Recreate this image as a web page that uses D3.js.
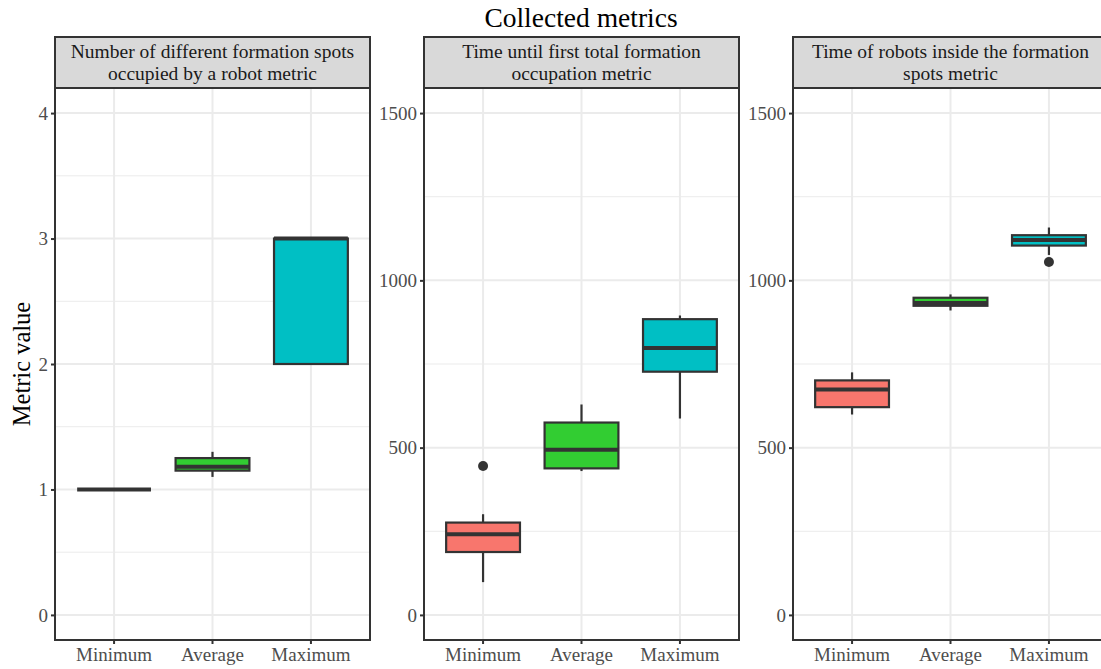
<!DOCTYPE html>
<html>
<head>
<meta charset="utf-8">
<script src="https://cdn.jsdelivr.net/npm/d3@7"></script>
<style>
  body { margin: 0; background: #fff; }
  text { font-family: "Liberation Serif", "DejaVu Serif", serif; }
</style>
</head>
<body>
<svg id="chart" width="1101" height="669"></svg>
<script>
const width = 1101;
const height = 669;

// data
const categories = ["Minimum", "Average", "Maximum"];
const fillColors = ["#F8766D", "#32CD32", "#00BFC4"];
const panelTitles = [
  ["Number of different formation spots", "occupied by a robot metric"],
  ["Time until first total formation", "occupation metric"],
  ["Time of robots inside the formation", "spots metric"]
];
const yTicks = [
  [0, 1, 2, 3, 4],
  [0, 500, 1000, 1500],
  [0, 500, 1000, 1500]
];
// per panel, per category
const whiskerLow = [[1, 1.1, 2], [98, 430, 587], [599, 910, 1076]];
const q1 = [[1, 1.15, 2], [188, 438, 727], [621, 924, 1104]];
const median = [[1, 1.18, 3], [241, 494, 798], [674, 932, 1121]];
const q3 = [[1, 1.25, 3], [276, 575, 884], [701, 948, 1135]];
const whiskerHigh = [[1, 1.3, 3], [301, 629, 895], [725, 958, 1158]];
const outliers = [[[], [], []], [[445], [], []], [[], [], [1055]]];

const panelLeft = [55, 424, 793];
const panelW = 315;
const stripTop = 37;
const stripBottom = 88;
const plotBottom = 640;

const svg = d3.select("#chart");

svg.append("text")
  .attr("x", 581)
  .attr("y", 27)
  .attr("text-anchor", "middle")
  .style("font-size", "27.5px")
  .style("fill", "#000")
  .text("Collected metrics");

svg.append("text")
  .attr("transform", `translate(30, ${(stripBottom + plotBottom) / 2}) rotate(-90)`)
  .attr("text-anchor", "middle")
  .style("font-size", "24.5px")
  .style("fill", "#000")
  .text("Metric value");

panelTitles.forEach((title, p) => {
  const left = panelLeft[p];

  const x = d3.scaleBand()
    .domain(categories)
    .range([left, left + panelW])
    .paddingOuter(0.1)
    .paddingInner(0);
  const cx = c => x(c) + x.bandwidth() / 2;
  const boxW = x.bandwidth() * 0.75;

  const ext = d3.extent(yTicks[p]);
  const pad = (ext[1] - ext[0]) * 0.05;
  const y = d3.scaleLinear()
    .domain([ext[0] - pad, ext[1] + pad])
    .range([plotBottom, stripBottom]);

  const g = svg.append("g");

  // minor grid
  const minor = d3.pairs(yTicks[p]).map(d => (d[0] + d[1]) / 2);
  g.selectAll("line.minor")
    .data(minor)
    .enter()
    .append("line")
    .attr("x1", left).attr("x2", left + panelW)
    .attr("y1", d => y(d)).attr("y2", d => y(d))
    .attr("stroke", "#EBEBEB")
    .attr("stroke-width", 1);

  // major grid
  g.selectAll("line.majorY")
    .data(yTicks[p])
    .enter()
    .append("line")
    .attr("x1", left).attr("x2", left + panelW)
    .attr("y1", d => y(d)).attr("y2", d => y(d))
    .attr("stroke", "#EBEBEB")
    .attr("stroke-width", 2);

  g.selectAll("line.majorX")
    .data(categories)
    .enter()
    .append("line")
    .attr("x1", d => cx(d)).attr("x2", d => cx(d))
    .attr("y1", stripBottom).attr("y2", plotBottom)
    .attr("stroke", "#EBEBEB")
    .attr("stroke-width", 2);

  // boxes
  categories.forEach((c, i) => {
    const xc = cx(c);
    g.append("line")
      .attr("x1", xc).attr("x2", xc)
      .attr("y1", y(whiskerHigh[p][i])).attr("y2", y(q3[p][i]))
      .attr("stroke", "#333333").attr("stroke-width", 2.2);
    g.append("line")
      .attr("x1", xc).attr("x2", xc)
      .attr("y1", y(q1[p][i])).attr("y2", y(whiskerLow[p][i]))
      .attr("stroke", "#333333").attr("stroke-width", 2.2);
    g.append("rect")
      .attr("x", xc - boxW / 2)
      .attr("width", boxW)
      .attr("y", y(q3[p][i]))
      .attr("height", Math.max(0, y(q1[p][i]) - y(q3[p][i])))
      .attr("fill", fillColors[i])
      .attr("stroke", "#333333")
      .attr("stroke-width", 2.2);
    g.append("line")
      .attr("x1", xc - boxW / 2).attr("x2", xc + boxW / 2)
      .attr("y1", y(median[p][i])).attr("y2", y(median[p][i]))
      .attr("stroke", "#333333").attr("stroke-width", 4);
    g.selectAll(null)
      .data(outliers[p][i])
      .enter()
      .append("circle")
      .attr("cx", xc)
      .attr("cy", d => y(d))
      .attr("r", 5)
      .attr("fill", "#333333");
  });

  // panel border
  g.append("rect")
    .attr("x", left).attr("y", stripBottom)
    .attr("width", panelW).attr("height", plotBottom - stripBottom)
    .attr("fill", "none")
    .attr("stroke", "#333333")
    .attr("stroke-width", 2);

  // strip
  g.append("rect")
    .attr("x", left).attr("y", stripTop)
    .attr("width", panelW).attr("height", stripBottom - stripTop)
    .attr("fill", "#D9D9D9")
    .attr("stroke", "#333333")
    .attr("stroke-width", 2);
  g.selectAll("text.strip")
    .data(title)
    .enter()
    .append("text")
    .attr("x", left + panelW / 2)
    .attr("y", (d, i) => 58 + i * 22)
    .attr("text-anchor", "middle")
    .style("font-size", "19.5px")
    .style("fill", "#1A1A1A")
    .text(d => d);

  // y axis
  const yAxis = g.append("g")
    .attr("transform", `translate(${left},0)`)
    .call(d3.axisLeft(y).tickValues(yTicks[p]).tickSize(4).tickPadding(3).tickFormat(d3.format("d")));
  yAxis.select(".domain").remove();
  yAxis.selectAll("line").attr("stroke", "#333333").attr("stroke-width", 2);
  yAxis.selectAll("text")
    .style("font-size", "19px")
    .style("font-family", "Liberation Serif, serif")
    .attr("fill", "#4D4D4D");

  // x axis
  const xAxis = g.append("g")
    .attr("transform", `translate(0,${plotBottom})`)
    .call(d3.axisBottom(x).tickSize(4).tickPadding(4));
  xAxis.select(".domain").remove();
  xAxis.selectAll("line").attr("stroke", "#333333").attr("stroke-width", 2);
  xAxis.selectAll("text")
    .style("font-size", "19px")
    .style("font-family", "Liberation Serif, serif")
    .attr("fill", "#4D4D4D");
});
</script>
</body>
</html>
